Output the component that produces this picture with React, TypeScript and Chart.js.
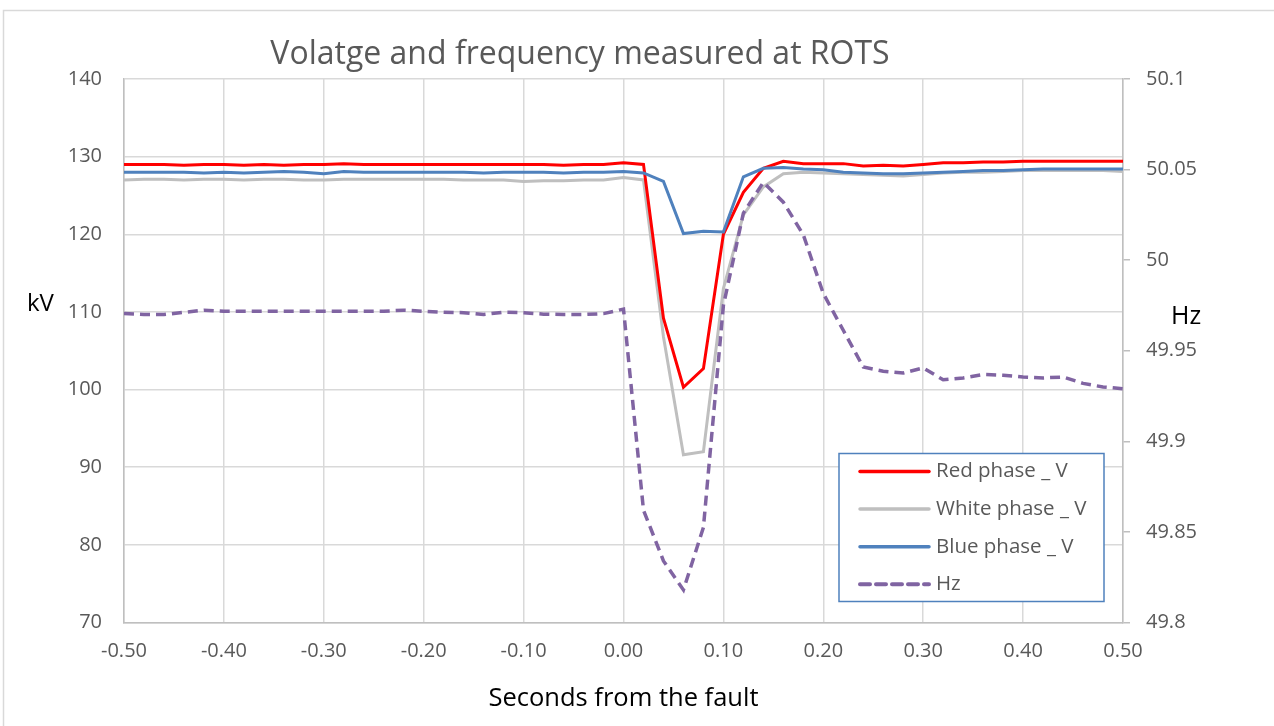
import { useEffect, useRef } from "react";
import { Chart, registerables } from "chart.js";

Chart.register(...registerables);

const TIME = [
  -0.5, -0.48, -0.46, -0.44, -0.42, -0.4, -0.38, -0.36, -0.34, -0.32, -0.3,
  -0.28, -0.26, -0.24, -0.22, -0.2, -0.18, -0.16, -0.14, -0.12, -0.1, -0.08,
  -0.06, -0.04, -0.02, 0, 0.02, 0.04, 0.06, 0.08, 0.1, 0.12, 0.14, 0.16, 0.18,
  0.2, 0.22, 0.24, 0.26, 0.28, 0.3, 0.32, 0.34, 0.36, 0.38, 0.4, 0.42, 0.44,
  0.46, 0.48, 0.5,
];

const RED_V = [
  129.0, 129.0, 129.0, 128.9, 129.0, 129.0, 128.9, 129.0, 128.9, 129.0, 129.0,
  129.1, 129.0, 129.0, 129.0, 129.0, 129.0, 129.0, 129.0, 129.0, 129.0, 129.0,
  128.9, 129.0, 129.0, 129.2, 129.0, 109.2, 100.3, 102.7, 120.0, 125.4, 128.5,
  129.4, 129.1, 129.1, 129.1, 128.8, 128.9, 128.8, 129.0, 129.2, 129.2, 129.3,
  129.3, 129.4, 129.4, 129.4, 129.4, 129.4, 129.4,
];

const WHITE_V = [
  127.0, 127.1, 127.1, 127.0, 127.1, 127.1, 127.0, 127.1, 127.1, 127.0, 127.0,
  127.1, 127.1, 127.1, 127.1, 127.1, 127.1, 127.0, 127.0, 127.0, 126.8, 126.9,
  126.9, 127.0, 127.0, 127.3, 127.0, 106.8, 91.6, 92.0, 113.0, 122.5, 126.1,
  127.8, 128.0, 127.9, 127.8, 127.7, 127.6, 127.5, 127.7, 127.9, 128.0, 128.0,
  128.1, 128.2, 128.2, 128.2, 128.2, 128.2, 128.1,
];

const BLUE_V = [
  128.0, 128.0, 128.0, 128.0, 127.9, 128.0, 127.9, 128.0, 128.1, 128.0, 127.8,
  128.1, 128.0, 128.0, 128.0, 128.0, 128.0, 128.0, 127.9, 128.0, 128.0, 128.0,
  127.9, 128.0, 128.0, 128.1, 127.9, 126.8, 120.1, 120.4, 120.3, 127.4, 128.5,
  128.6, 128.4, 128.3, 128.0, 127.9, 127.8, 127.8, 127.9, 128.0, 128.1, 128.2,
  128.2, 128.3, 128.4, 128.4, 128.4, 128.4, 128.4,
];

const FREQ_HZ = [
  49.9705, 49.97, 49.97, 49.9712, 49.9724, 49.9718, 49.9718, 49.9718, 49.9718,
  49.9718, 49.9718, 49.9718, 49.9718, 49.9718, 49.9724, 49.9718, 49.9713,
  49.971, 49.97, 49.9713, 49.971, 49.9702, 49.97, 49.97, 49.9705, 49.973,
  49.862, 49.834, 49.818, 49.8525, 49.975, 50.026, 50.043, 50.032, 50.014,
  49.9816, 49.9613, 49.941, 49.9387, 49.9377, 49.9405, 49.934, 49.935, 49.9369,
  49.9365, 49.9355, 49.935, 49.9355, 49.932, 49.93, 49.929,
];

const SERIES_LABELS = ["Red phase _ V", "White phase _ V", "Blue phase _ V", "Hz"];
const TITLE = "Volatge and frequency measured at ROTS";
const X_TITLE = "Seconds from the fault";
const LEFT_TITLE = "kV";
const RIGHT_TITLE = "Hz";

const FONT = "'Open Sans', 'Noto Sans', sans-serif";
const GRID = "#D9D9D9";
const AXIS = "#BFBFBF";
const TEXT = "#595959";

const fmtX = (v: number) => {
  if (Math.abs(v) < 1e-9) return "0.00";
  return v.toFixed(2);
};
const fmtHz = (v: number) => String(parseFloat(v.toFixed(2)));

const pts = (vals: number[]) => TIME.map((t, i) => ({ x: t, y: vals[i] }));

const decorPlugin = {
  id: "decor",
  afterDraw(chart: any) {
    const ctx = chart.ctx as CanvasRenderingContext2D;
    const ca = chart.chartArea;
    ctx.save();
    // outer chart border
    ctx.strokeStyle = GRID;
    ctx.lineWidth = 1.5;
    ctx.strokeRect(3.5, 10.5, 1400, 1000);

    // title
    ctx.fillStyle = TEXT;
    ctx.font = `32px ${FONT}`;
    ctx.textAlign = "center";
    ctx.textBaseline = "middle";
    ctx.fillText(TITLE, 580, 55);

    // axis titles
    ctx.fillStyle = "#000000";
    ctx.font = `25.5px ${FONT}`;
    ctx.fillText(X_TITLE, (ca.left + ca.right) / 2, 699);
    ctx.font = `24px ${FONT}`;
    ctx.textAlign = "left";
    ctx.fillText(LEFT_TITLE, 27, 304);
    ctx.font = `25px ${FONT}`;
    ctx.fillText(RIGHT_TITLE, 1171, 317);

    // legend
    const bw = 265;
    const bh = 148;
    const bx = ca.right - 19 - bw;
    const by = ca.bottom - 21 - bh;
    ctx.fillStyle = "#FFFFFF";
    ctx.fillRect(bx, by, bw, bh);
    ctx.strokeStyle = "#4F81BD";
    ctx.lineWidth = 1.5;
    ctx.strokeRect(bx, by, bw, bh);
    ctx.font = `20.5px ${FONT}`;
    ctx.textBaseline = "middle";
    ctx.textAlign = "left";
    chart.data.datasets.forEach((ds: any, i: number) => {
      const y = by + 18 + i * 37.6;
      ctx.save();
      ctx.strokeStyle = ds.borderColor;
      ctx.lineWidth = ds.borderWidth + 0.5;
      ctx.setLineDash(ds.borderDash || []);
      ctx.lineCap = "round";
      ctx.beginPath();
      ctx.moveTo(bx + 21, y);
      ctx.lineTo(bx + 90, y);
      ctx.stroke();
      ctx.restore();
      ctx.fillStyle = TEXT;
      ctx.fillText(ds.label, bx + 97, y);
    });
    ctx.restore();
  },
};

export default function App() {
  const ref = useRef<HTMLCanvasElement | null>(null);

  useEffect(() => {
    if (!ref.current) return;
    const chart = new Chart(ref.current, {
      type: "line",
      data: {
        datasets: [
          {
            label: SERIES_LABELS[0],
            data: pts(RED_V),
            borderColor: "#FF0000",
            borderWidth: 3,
            pointRadius: 0,
            tension: 0,
            yAxisID: "y",
            order: 2,
          },
          {
            label: SERIES_LABELS[1],
            data: pts(WHITE_V),
            borderColor: "#BFBFBF",
            borderWidth: 3,
            pointRadius: 0,
            tension: 0,
            yAxisID: "y",
            order: 3,
          },
          {
            label: SERIES_LABELS[2],
            data: pts(BLUE_V),
            borderColor: "#4F81BD",
            borderWidth: 3,
            pointRadius: 0,
            tension: 0,
            yAxisID: "y",
            order: 1,
          },
          {
            label: SERIES_LABELS[3],
            data: pts(FREQ_HZ),
            borderColor: "#8064A2",
            borderWidth: 3.5,
            borderDash: [10, 6],
            pointRadius: 0,
            tension: 0,
            yAxisID: "y1",
            order: 0,
          },
        ],
      },
      options: {
        animation: false,
        responsive: false,
        devicePixelRatio: 1,
        layout: { padding: { top: 79, left: 0, right: 0, bottom: 0 } },
        plugins: {
          legend: { display: false },
          title: { display: false },
          tooltip: { enabled: false },
        },
        scales: {
          x: {
            type: "linear",
            min: -0.5,
            max: 0.5,
            ticks: {
              stepSize: 0.1,
              callback: (v: any) => fmtX(Number(v)),
              font: { family: FONT, size: 20 },
              color: TEXT,
              padding: 17,
              maxRotation: 0,
            },
            grid: { color: GRID, lineWidth: 1.5, drawTicks: false },
            border: { color: AXIS, width: 1.5 },
            afterFit: (s: any) => {
              s.height = 103.5;
            },
          },
          y: {
            type: "linear",
            position: "left",
            min: 70,
            max: 140,
            ticks: {
              stepSize: 10,
              font: { family: FONT, size: 20 },
              color: TEXT,
              padding: 22,
            },
            grid: { color: GRID, lineWidth: 1.5, drawTicks: false },
            border: { color: AXIS, width: 1.5 },
            afterFit: (s: any) => {
              s.width = 124;
            },
          },
          y1: {
            type: "linear",
            position: "right",
            min: 49.8,
            max: 50.1,
            ticks: {
              stepSize: 0.05,
              callback: (v: any) => fmtHz(Number(v)),
              font: { family: FONT, size: 20 },
              color: TEXT,
              padding: 16,
            },
            grid: {
              drawOnChartArea: false,
              drawTicks: true,
              tickLength: 7,
              color: AXIS,
              lineWidth: 1.5,
            },
            border: { color: AXIS, width: 1.5 },
            afterFit: (s: any) => {
              s.width = 151;
            },
          },
        },
      },
      plugins: [decorPlugin],
    } as any);
    return () => chart.destroy();
  }, []);

  return (
    <div
      style={{
        position: "absolute",
        left: 0,
        top: 0,
        width: 1274,
        height: 726,
        background: "#FFFFFF",
      }}
    >
      <canvas ref={ref} width={1274} height={726} style={{ width: 1274, height: 726 }} />
    </div>
  );
}
